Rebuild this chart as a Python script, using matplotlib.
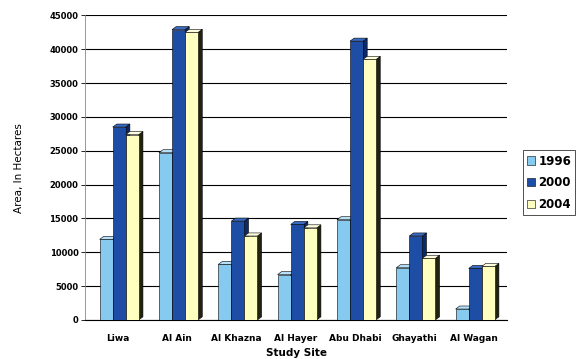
import matplotlib
matplotlib.use("Agg")
import matplotlib.pyplot as plt
from matplotlib.patches import Polygon
import numpy as np

sites = ["Liwa", "Al Ain", "Al Khazna", "Al Hayer", "Abu Dhabi", "Ghayathi", "Al Wagan"]
years = ["1996", "2000", "2004"]
v1996 = [11900, 24700, 8200, 6700, 14800, 7700, 1600]
v2000 = [28500, 42900, 14600, 14100, 41200, 12400, 7600]
v2004 = [27400, 42500, 12400, 13600, 38500, 9100, 7900]
yticks = [0, 5000, 10000, 15000, 20000, 25000, 30000, 35000, 40000, 45000]

face = ["#86CBEF", "#1E4DA6", "#FFFFC0"]
top = ["#B5E0F7", "#3A6BC4", "#FFFFE0"]
side = ["#4E93B8", "#0E2A66", "#222211"]

fig = plt.figure(figsize=(5.77, 3.59), dpi=100)
ax = fig.add_axes([0.148, 0.109, 0.73, 0.848])

x = np.arange(len(sites))
w = 0.22
dx = 0.07
dy = 450
series = [v1996, v2000, v2004]
for k, vals in enumerate(series):
    xs = x - w + k * w + 0.02
    for xi, h in zip(xs, vals):
        x0, x1 = xi - w / 2, xi + w / 2
        ax.add_patch(Polygon([(x1, 0), (x1 + dx, dy), (x1 + dx, h + dy), (x1, h)],
                             closed=True, facecolor=side[k], edgecolor="black", lw=0.4, zorder=3 + k))
        ax.add_patch(Polygon([(x0, h), (x1, h), (x1 + dx, h + dy), (x0 + dx, h + dy)],
                             closed=True, facecolor=top[k], edgecolor="black", lw=0.4, zorder=3 + k))
    ax.bar(xs, vals, width=w, color=face[k], edgecolor="black", linewidth=0.4,
           zorder=3 + k, label=years[k])

ax.set_xlim(-0.55, len(sites) - 0.45)
ax.set_ylim(0, 45000)
ax.set_yticks(yticks)
ax.set_yticklabels([str(t) for t in yticks], fontsize=6, fontweight="bold")
ax.set_xticks(x)
ax.set_xticklabels(sites, fontsize=6.5, fontweight="bold")
ax.tick_params(axis="x", length=0, pad=10)
ax.tick_params(axis="y", length=3, width=0.6, pad=2)
ax.yaxis.grid(True, color="black", linewidth=0.8, zorder=0)
ax.set_axisbelow(True)
for s in ["top", "right"]:
    ax.spines[s].set_visible(False)
ax.spines["left"].set_color("#888888")
ax.spines["left"].set_linewidth(0.6)
ax.spines["bottom"].set_linewidth(0.8)

ax.set_ylabel("Area, In Hectares", fontsize=7.5, labelpad=18)
ax.set_xlabel("Study Site", fontsize=7.5, fontweight="bold", labelpad=4)

leg = ax.legend(loc="center left", bbox_to_anchor=(1.039, 0.45),
                frameon=True, fancybox=False, edgecolor="black", handlelength=0.7,
                handleheight=0.7, handletextpad=0.25, borderpad=0.35, labelspacing=0.75,
                borderaxespad=0, prop={"weight": "bold", "size": 8.5})
leg.get_frame().set_linewidth(0.6)

fig.savefig("out.png", dpi=100)
